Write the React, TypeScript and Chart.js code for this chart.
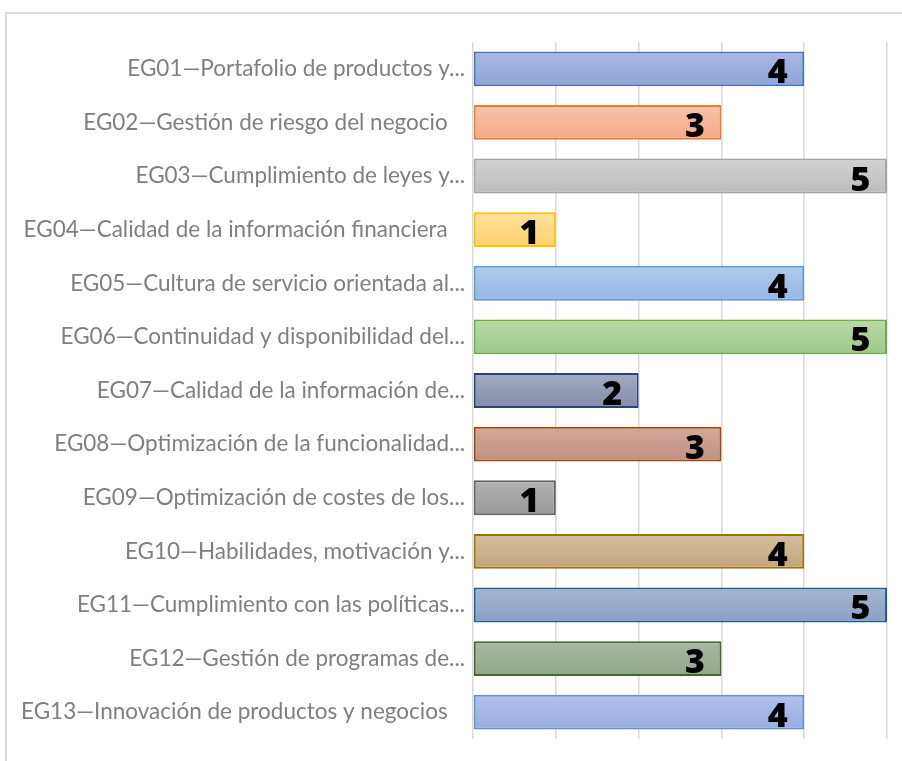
import React, { useEffect, useRef } from "react";
import { Chart, registerables } from "chart.js";

Chart.register(...registerables);

const categories = [
  "EG01—Portafolio de productos y...",
  "EG02—Gestión de riesgo del negocio   ",
  "EG03—Cumplimiento de leyes y...",
  "EG04—Calidad de la información financiera   ",
  "EG05—Cultura de servicio orientada al...",
  "EG06—Continuidad y disponibilidad del...",
  "EG07—Calidad de la información de...",
  "EG08—Optimización de la funcionalidad...",
  "EG09—Optimización de costes de los...",
  "EG10—Habilidades, motivación y...",
  "EG11—Cumplimiento con las políticas...",
  "EG12—Gestión de programas de...",
  "EG13—Innovación de productos y negocios   ",
];

const values = [4, 3, 5, 1, 4, 5, 2, 3, 1, 4, 5, 3, 4];

const xTicks = [0, 1, 2, 3, 4, 5];

const gradTop = [
  "#aab9e2", "#f8c4aa", "#d2d2d2", "#ffe19c", "#b1ccec", "#b9daaa",
  "#a3aac2", "#d2aa9c", "#b2b2b2", "#d5bf9f", "#a5b6d2", "#aab9a2", "#b3c3ea",
];
const gradBottom = [
  "#8ea4d7", "#f4a887", "#bcbcbc", "#ffd26c", "#95b7e3", "#9dc98a",
  "#838daa", "#c0907e", "#999999", "#c2a47c", "#8aa0c1", "#92a687", "#96acdf",
];
const borderColors = [
  "#4472c4", "#ed7d31", "#a5a5a5", "#ffc000", "#5b9bd5", "#70ad47",
  "#264478", "#9e480e", "#636363", "#997300", "#255e91", "#43682b", "#698ed0",
];

const BAR_PCT = 0.65;

const labelPlugin = {
  id: "valueLabels",
  afterDatasetsDraw(chart: any) {
    const ctx = chart.ctx;
    const meta = chart.getDatasetMeta(0);
    ctx.save();
    ctx.font = "800 34px 'Open Sans'";
    ctx.fillStyle = "#000000";
    ctx.textAlign = "right";
    ctx.textBaseline = "alphabetic";
    meta.data.forEach((el: any, i: number) => {
      ctx.fillText(String(values[i]), el.x - 16.5, el.y + 14.5);
    });
    ctx.restore();
  },
};

export default function App() {
  const canvasRef = useRef<HTMLCanvasElement>(null);

  useEffect(() => {
    if (!canvasRef.current) return;
    const chart = new Chart(canvasRef.current, {
      type: "bar",
      data: {
        labels: categories,
        datasets: [
          {
            data: values,
            backgroundColor: (c: any) => {
              const ch = c.chart;
              const i = c.dataIndex;
              const ys = ch.scales && ch.scales.y;
              if (!ch.chartArea || !ys || i === undefined) return gradBottom[i ?? 0];
              const center = ys.getPixelForValue(i);
              const band = ys.height / categories.length;
              const h = band * BAR_PCT;
              const g = ch.ctx.createLinearGradient(0, center - h / 2, 0, center + h / 2);
              g.addColorStop(0, gradTop[i]);
              g.addColorStop(1, gradBottom[i]);
              return g;
            },
            borderColor: borderColors,
            borderWidth: 2,
            borderSkipped: false,
            barPercentage: BAR_PCT,
            categoryPercentage: 1,
          },
        ],
      },
      options: {
        indexAxis: "y",
        animation: false,
        responsive: false,
        maintainAspectRatio: false,
        layout: { padding: { left: 0, top: 42, right: 15, bottom: 22 } },
        plugins: {
          legend: { display: false },
          tooltip: { enabled: false },
        },
        scales: {
          x: {
            min: xTicks[0],
            max: xTicks[xTicks.length - 1],
            ticks: { display: false, stepSize: 1 },
            grid: { color: "#d9d9d9", lineWidth: 1.5, drawTicks: false },
            border: { display: false },
          },
          y: {
            grid: { display: false, drawTicks: false },
            border: { display: false },
            ticks: {
              color: "#7f7f7f",
              font: { family: "Lato", size: 22.5 },
              padding: 8,
              autoSkip: false,
            },
            afterFit: (scale: any) => {
              scale.width = 473;
            },
          },
        },
      },
      plugins: [labelPlugin],
    });
    return () => chart.destroy();
  }, []);

  return (
    <div
      style={{
        position: "fixed",
        left: 0,
        top: 0,
        width: 902,
        height: 761,
        overflow: "hidden",
        background: "#ffffff",
      }}
    >
      <div
        style={{
          position: "absolute",
          left: 5,
          top: 12,
          width: 950,
          height: 800,
          border: "2px solid #d9d9d9",
          boxSizing: "border-box",
        }}
      />
      <canvas
        ref={canvasRef}
        width={902}
        height={761}
        style={{ position: "absolute", left: 0, top: 0, width: 902, height: 761 }}
      />
    </div>
  );
}
